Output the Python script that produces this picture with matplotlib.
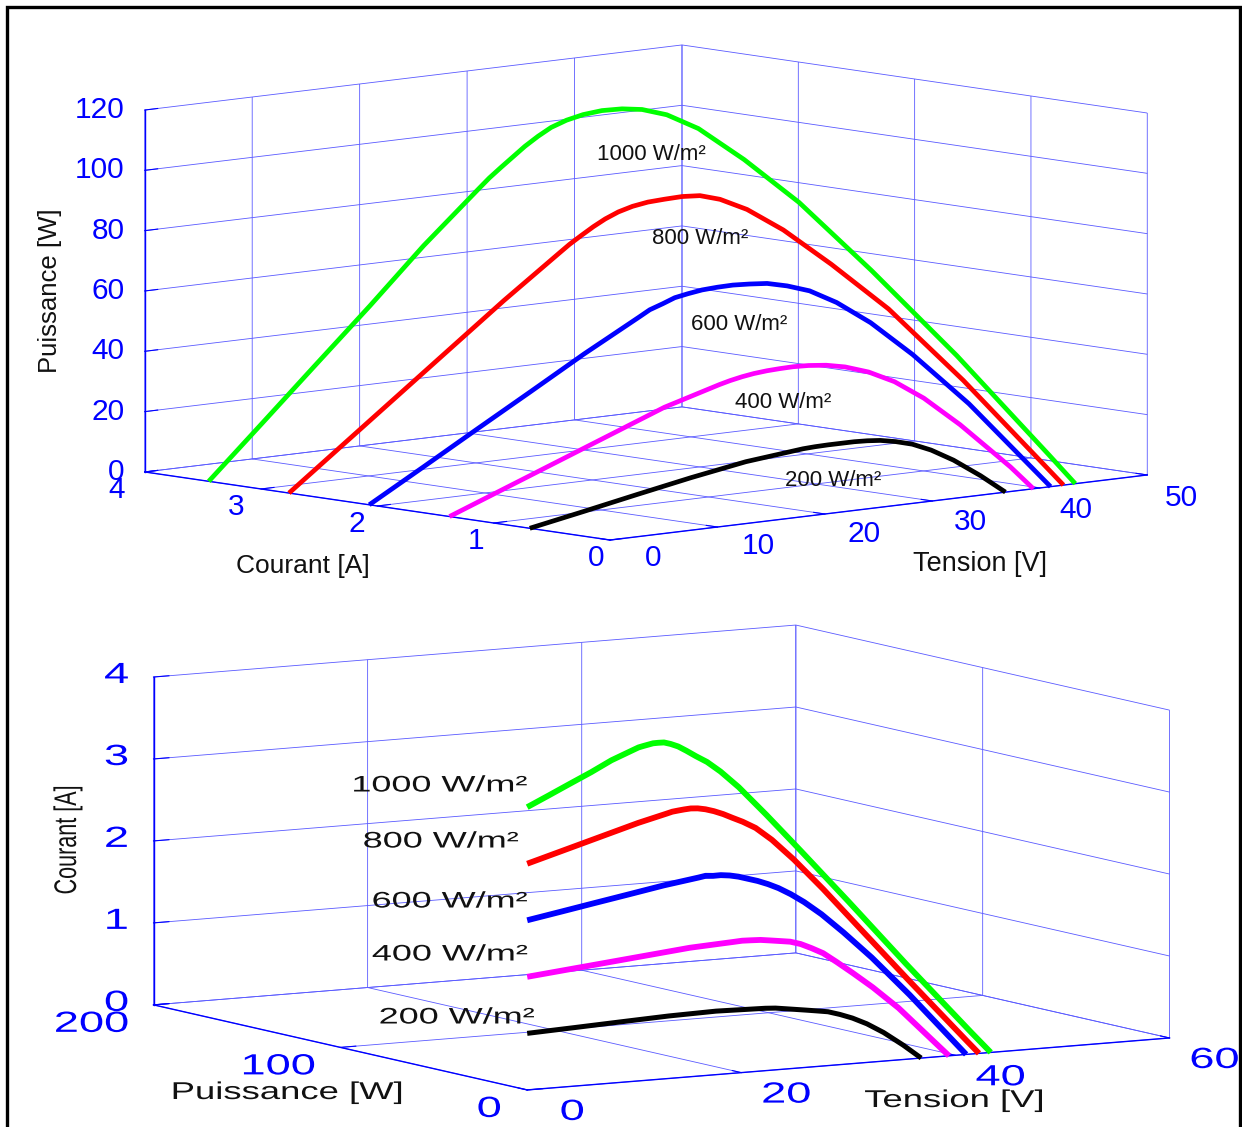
import matplotlib
matplotlib.use("Agg")
import matplotlib.pyplot as plt
from matplotlib.patches import Rectangle
from matplotlib.patheffects import AbstractPathEffect
from matplotlib.transforms import Affine2D
from mpl_toolkits.mplot3d import proj3d

W, H = 1242, 1127

# values: tension [V], courant [A], puissance [W]
v_1000 = [0, 5, 10, 15, 20, 25, 26, 27, 28, 29, 30, 31, 32, 33, 34, 35, 36, 37, 38, 39, 40, 41, 42, 43, 43.3]
i_1000 = [3.45, 3.45, 3.45, 3.45, 3.45, 3.44, 3.44, 3.43, 3.42, 3.41, 3.39, 3.37, 3.33, 3.28, 3.21, 3.13, 3.05, 2.93, 2.75, 2.45, 2.07, 1.54, 0.9, 0.2, 0]
p_1000 = [0, 17.2, 34.5, 51.7, 69.5, 86.2, 89.4, 92.6, 95.7, 98.8, 101.8, 104.4, 106.6, 108.3, 109.6, 110.2, 110, 108.5, 104.5, 95.5, 83, 63, 38, 8.6, 0]

v_800 = [0, 5, 10, 15, 20, 25, 26, 27, 28, 29, 30, 31, 32, 33, 34, 35, 36, 37, 38, 39, 40, 41, 42, 42.2]
i_800 = [2.76, 2.76, 2.76, 2.76, 2.76, 2.75, 2.75, 2.74, 2.73, 2.72, 2.70, 2.67, 2.63, 2.58, 2.52, 2.46, 2.38, 2.24, 2.02, 1.7, 1.3, 0.75, 0.12, 0]
p_800 = [0, 13.8, 27.6, 41.4, 55.2, 68.7, 71.3, 73.9, 76.4, 78.6, 80.6, 82.2, 83.4, 84.2, 85, 85.2, 84, 81, 75, 65, 52, 31, 5, 0]

v_600 = [0, 5, 10, 15, 20, 25, 26, 27, 28, 29, 30, 31, 32, 33, 34, 35, 36, 37, 38, 39, 40, 41]
i_600 = [2.07, 2.07, 2.07, 2.07, 2.07, 2.06, 2.06, 2.04, 2.03, 2.01, 1.98, 1.94, 1.90, 1.85, 1.79, 1.71, 1.61, 1.47, 1.27, 1.0, 0.61, 0]
p_600 = [0, 10.3, 20.7, 31, 41.4, 51.5, 53.5, 55.2, 56.8, 57.8, 58.8, 59.5, 60, 60.2, 60.3, 59.5, 58, 54.5, 48.5, 39, 24.5, 0]

v_400 = [0, 5, 10, 15, 20, 25, 26, 27, 28, 29, 30, 31, 32, 33, 34, 35, 36, 37, 38, 39, 39.4]
i_400 = [1.38, 1.38, 1.38, 1.38, 1.38, 1.37, 1.37, 1.36, 1.35, 1.33, 1.31, 1.29, 1.25, 1.19, 1.12, 1.01, 0.88, 0.72, 0.5, 0.16, 0]
p_400 = [0, 6.9, 13.8, 20.7, 27.6, 33, 33.9, 34.8, 35.5, 36.1, 36.5, 36.8, 37, 37, 36.4, 34.9, 32, 27, 19, 6.5, 0]

v_200 = [0, 5, 10, 15, 20, 25, 26, 27, 28, 29, 30, 31, 32, 33, 34, 35, 36, 36.8]
i_200 = [0.69, 0.69, 0.69, 0.69, 0.68, 0.65, 0.64, 0.62, 0.60, 0.58, 0.56, 0.54, 0.5, 0.45, 0.38, 0.28, 0.14, 0]
p_200 = [0, 3.4, 6.9, 10.3, 13.5, 15.8, 16.1, 16.4, 16.6, 16.8, 16.8, 16.6, 16, 15, 13, 9.8, 5, 0]

curve_v = [v_1000, v_800, v_600, v_400, v_200]
curve_i = [i_1000, i_800, i_600, i_400, i_200]
curve_p = [p_1000, p_800, p_600, p_400, p_200]
curve_colors = ["#00ff00", "#ff0000", "#0000ff", "#ff00ff", "#000000"]
curve_names = ["1000 W/m²", "800 W/m²", "600 W/m²", "400 W/m²", "200 W/m²"]

top_v_ticks = [0, 10, 20, 30, 40, 50]
top_i_ticks = [0, 1, 2, 3, 4]
top_p_ticks = [0, 20, 40, 60, 80, 100, 120]
bot_v_ticks = [0, 20, 40, 60]
bot_p_ticks = [0, 100, 200]
bot_i_ticks = [0, 1, 2, 3, 4]

plt.rcParams["font.family"] = ["Liberation Sans", "DejaVu Sans"]
plt.rcParams["grid.color"] = "#5a5aff"
plt.rcParams["grid.linewidth"] = 0.6
plt.rcParams["axes.edgecolor"] = "#0000ff"
plt.rcParams["axes.linewidth"] = 1.0
plt.rcParams["xtick.color"] = "#0000ff"
plt.rcParams["ytick.color"] = "#0000ff"


# the lower chart has its text pulled wide, so scale the glyphs about their centre
class Stretch(AbstractPathEffect):
    def __init__(self, sx):
        super().__init__()
        self.sx = sx

    def draw_path(self, renderer, gc, tpath, affine, rgbFace=None):
        box = tpath.get_extents()
        cx = (box.x0 + box.x1) / 2
        t = Affine2D().translate(-cx, 0).scale(self.sx, 1).translate(cx, 0)
        renderer.draw_path(gc, tpath, t + affine, rgbFace)


def make_axes(fig, cx, cy, side, elev, azim, aspect, lims, ticks):
    # 2D view of a 3D axes runs -0.095..0.09, so the box centre is at 0.5135
    left = (cx - 0.5135 * side) / W
    bottom = (H - cy - 0.5135 * side) / H
    ax = fig.add_axes([left, bottom, side / W, side / H], projection="3d")
    ax.set_proj_type("ortho")
    ax.view_init(elev=elev, azim=azim)
    ax.set_box_aspect(aspect)
    ax.set_facecolor("none")
    ax.set_xlim(*lims[0], view_margin=0)
    ax.set_ylim(*lims[1], view_margin=0)
    ax.set_zlim(*lims[2], view_margin=0)
    ax.set_xticks(ticks[0])
    ax.set_yticks(ticks[1])
    ax.set_zticks(ticks[2])
    ax.set_xticklabels([])
    ax.set_yticklabels([])
    ax.set_zticklabels([])
    for axis in (ax.xaxis, ax.yaxis, ax.zaxis):
        axis.set_pane_color((1, 1, 1, 0))
        axis.pane.set_edgecolor("#5a5aff")
        axis.pane.set_linewidth(0.6)
        axis._axinfo["tick"]["inward_factor"] = 0.0
        axis._axinfo["tick"]["outward_factor"] = 0.3
    return ax


def tick_text(ax, x, y, z, s, dx, dy, size, ha="center", effects=None):
    px, py, _ = proj3d.proj_transform(x, y, z, ax.get_proj())
    ax.annotate(s, xy=(px, py), xytext=(dx, dy), textcoords="offset pixels",
                color="#0000ff", fontsize=size, ha=ha, va="center",
                annotation_clip=False, path_effects=effects)


def label(fig, x, y, s, size, rotation=0, effects=None):
    fig.text(x / W, 1 - y / H, s, fontsize=size, color="#111111", ha="center",
             va="center", rotation=rotation, path_effects=effects)


fig = plt.figure(figsize=(W / 100, H / 100), dpi=100, facecolor="white")

# upper chart: P(V, I)
ax1 = make_axes(fig, 646, 292.5, 1036, 7.65, -132.3, (726, 691, 365),
                [(0, 50), (0, 4), (0, 120)], [top_v_ticks, top_i_ticks, top_p_ticks])
for v, i, p, c in zip(curve_v, curve_i, curve_p, curve_colors):
    ax1.plot(v, i, p, color=c, lw=3.4, solid_capstyle="butt")
for t in top_v_ticks:
    tick_text(ax1, t, 0, 0, str(t), 43 - 0.18 * t, -18 - 0.1 * t, 21.5)
for t in top_i_ticks:
    tick_text(ax1, 0, t, 0, str(t), -14 - 3.5 * t, -18, 21.5)
for t in top_p_ticks:
    tick_text(ax1, 0, 4, t, str(t), -20, 0, 21.5, ha="right")

top_label_pos = [(651, 154), (700, 239), (739, 324), (783, 403), (833, 481)]
for (x, y), s in zip(top_label_pos, curve_names):
    label(fig, x, y, s, 16)
label(fig, 303, 566, "Courant [A]", 19)
label(fig, 980, 564, "Tension [V]", 19.5)
label(fig, 50, 291, "Puissance [W]", 18.5, rotation=90)

# lower chart: I(V, P)
wide = [Stretch(1.55)]
ax2 = make_axes(fig, 661.5, 857.5, 1064, 7.8, -120.8, (748, 730, 331),
                [(0, 60), (0, 200), (0, 4)], [bot_v_ticks, bot_p_ticks, bot_i_ticks])
for v, i, p, c in zip(curve_v, curve_i, curve_p, curve_colors):
    ax2.plot(v, p, i, color=c, lw=3.6 if c == "#000000" else 4.2, solid_capstyle="butt")
for t in bot_v_ticks:
    tick_text(ax2, t, 0, 0, str(t), 45, -22, 21, effects=wide)
for t in bot_p_ticks:
    tick_text(ax2, 0, t, 0, str(t), -26 - 12 * len(str(t)), -19, 21, effects=wide)
for t in bot_i_ticks:
    tick_text(ax2, 0, 200, t, str(t), -37, 2, 21, effects=wide)

bot_label_pos = [(440, 786), (441, 842), (450, 902), (450, 955), (457, 1018)]
for (x, y), s in zip(bot_label_pos, curve_names):
    label(fig, x, y, s, 16.2, effects=[Stretch(1.6)])
label(fig, 287, 1093, "Puissance [W]", 17.5, effects=[Stretch(1.5)])
label(fig, 954, 1101, "Tension [V]", 17.5, effects=[Stretch(1.5)])
label(fig, 68, 840, "Courant [A]", 22.5, rotation=90, effects=[Stretch(0.69)])

# frame of the original figure, its bottom edge is cut off
fig.add_artist(Rectangle((7 / W, -0.1), 1233 / W, 1.1 - 7 / H, fill=False,
                         edgecolor="black", linewidth=2.4, transform=fig.transFigure))

fig.savefig("out.png", dpi=100)
